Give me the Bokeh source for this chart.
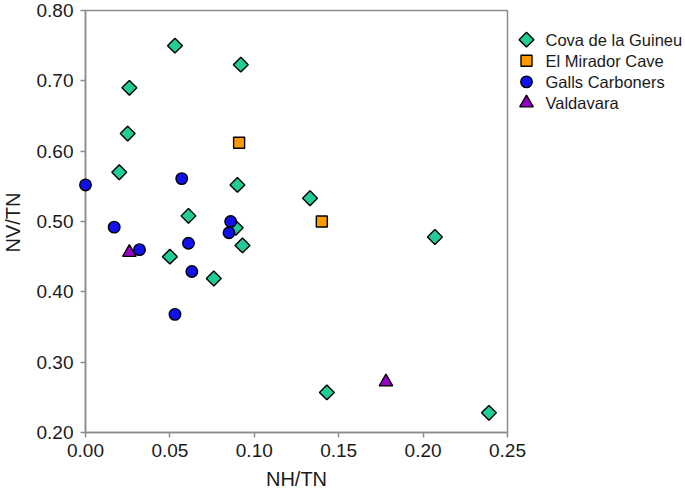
import numpy as np
from bokeh.plotting import figure
from bokeh.layouts import row
from bokeh.models import FixedTicker, NumeralTickFormatter, Range1d, ColumnDataSource
from bokeh.core.properties import value
from bokeh.embed import file_html
from bokeh.resources import INLINE

# ---------------- data ----------------
series_names = ["Cova de la Guineu", "El Mirador Cave", "Galls Carboners", "Valdavara"]

guineu_nh = [0.053, 0.092, 0.026, 0.025, 0.020, 0.090, 0.061, 0.089, 0.093, 0.050, 0.076, 0.133, 0.207, 0.143, 0.239]
guineu_nv = [0.750, 0.723, 0.690, 0.625, 0.570, 0.552, 0.508, 0.491, 0.466, 0.450, 0.419, 0.533, 0.478, 0.257, 0.228]

mirador_nh = [0.091, 0.140]
mirador_nv = [0.612, 0.500]

galls_nh = [0.000, 0.057, 0.017, 0.086, 0.085, 0.032, 0.061, 0.063, 0.053]
galls_nv = [0.552, 0.561, 0.492, 0.500, 0.484, 0.460, 0.469, 0.429, 0.368]

valdavara_nh = [0.026, 0.178]
valdavara_nv = [0.456, 0.272]

x_ticks = [0.00, 0.05, 0.10, 0.15, 0.20, 0.25]
y_ticks = [0.20, 0.30, 0.40, 0.50, 0.60, 0.70, 0.80]

x_title = "NH/TN"
y_title = "NV/TN"

# ---------------- styles ----------------
FONT = "Liberation Sans"
AX_COL = "#8c8c8c"
TXT_COL = "#1a1a1a"

styles = {
    "Cova de la Guineu": dict(marker="square", color="#22CC99", size=10.5, angle=np.pi / 4),
    "El Mirador Cave": dict(marker="square", color="#FF9900", size=11, angle=0.0),
    "Galls Carboners": dict(marker="circle", color="#1111F0", size=11.5, angle=0.0),
    "Valdavara": dict(marker="triangle", color="#9900CC", size=13.5, angle=0.0),
}
data = {
    "Cova de la Guineu": (guineu_nh, guineu_nv),
    "El Mirador Cave": (mirador_nh, mirador_nv),
    "Galls Carboners": (galls_nh, galls_nv),
    "Valdavara": (valdavara_nh, valdavara_nv),
}

TOTAL_W, H = 685, 492
FL, FR, FT, FB = 85, 507, 10, 432   # frame edges in canvas pixels
W1 = 530                              # main canvas (room for the "0.25" tick label)
OVERLAP = 18                          # legend panel overlaps the main canvas' right border

p = figure(width=W1, height=H, x_range=Range1d(0, 0.25), y_range=Range1d(0.2, 0.8),
           output_backend="svg", toolbar_location=None,
           min_border_left=FL, min_border_right=W1 - FR, min_border_top=FT, min_border_bottom=H - FB)

draw_order = ["Cova de la Guineu", "El Mirador Cave", "Valdavara", "Galls Carboners"]
for name in draw_order:
    xs, ys = data[name]
    st = styles[name]
    p.scatter(xs, ys, marker=st["marker"], size=st["size"], angle=st["angle"],
              fill_color=st["color"], line_color="black", line_width=1.4, level="overlay")

p.xaxis.ticker = FixedTicker(ticks=x_ticks)
p.yaxis.ticker = FixedTicker(ticks=y_ticks)
p.xaxis.formatter = NumeralTickFormatter(format="0.00")
p.yaxis.formatter = NumeralTickFormatter(format="0.00")
p.xaxis.axis_label = x_title
for ax in (p.xaxis[0], p.yaxis[0]):
    ax.axis_line_color = AX_COL
    ax.axis_line_width = 1.5
    ax.major_tick_line_color = AX_COL
    ax.major_tick_line_width = 1.5
    ax.major_tick_out = 5
    ax.major_tick_in = 0
    ax.minor_tick_line_color = None
    ax.major_label_text_font = FONT
    ax.major_label_text_font_size = "19px"
    ax.major_label_text_color = TXT_COL
    ax.axis_label_text_font = FONT
    ax.axis_label_text_font_size = "20px"
    ax.axis_label_text_font_style = "normal"
    ax.axis_label_text_color = TXT_COL
p.xaxis.major_label_standoff = 6
p.xaxis.axis_label_standoff = 8
p.yaxis.major_label_standoff = 7
p.grid.visible = False
p.outline_line_color = AX_COL
p.outline_line_width = 1.5
p.background_fill_color = "white"
p.border_fill_color = "white"

# y-axis title drawn in canvas-pixel coordinates, close to the left edge as in the reference
p.extra_x_ranges = {"px": Range1d(FL, FR)}
p.extra_y_ranges = {"py": Range1d(FB, FT)}
p.text(x=[12], y=[222], text=[y_title], angle=np.pi / 2, text_align="center",
       text_baseline="middle", text_font=value(FONT), text_font_size="20px",
       text_color=TXT_COL, x_range_name="px", y_range_name="py", level="overlay")

# ---------------- legend panel ----------------
W2 = TOTAL_W - W1 + OVERLAP
lg = figure(width=W2, height=H, x_range=Range1d(0, W2), y_range=Range1d(H, 0),
            output_backend="svg", toolbar_location=None, min_border=0,
            x_axis_location=None, y_axis_location=None, margin=(0, 0, 0, -OVERLAP))
lg.grid.visible = False
lg.outline_line_color = None
lg.background_fill_alpha = 0.0
lg.border_fill_alpha = 0.0

n = len(series_names)
leg_x0 = W1 - OVERLAP
leg_y = [34 + 24.6 * i for i in range(n)]
src = ColumnDataSource(dict(
    x=[526 - leg_x0] * n, y=leg_y,
    marker=[styles[s]["marker"] for s in series_names],
    color=[styles[s]["color"] for s in series_names],
    size=[styles[s]["size"] for s in series_names],
    angle=[styles[s]["angle"] for s in series_names],
    tx=[545 - leg_x0] * n, label=series_names,
))
lg.scatter("x", "y", source=src, marker="marker", size="size", angle="angle",
           fill_color="color", line_color="black", line_width=1.4)
lg.text("tx", "y", text="label", source=src, text_font=value(FONT), text_font_size="16.5px",
        text_baseline="middle", text_align="left", text_color=TXT_COL)

layout = row(p, lg)
open("out.html", "w").write(file_html(layout, INLINE))
